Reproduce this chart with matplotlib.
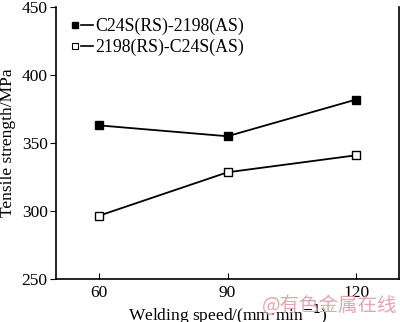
import matplotlib.pyplot as plt
from matplotlib.lines import Line2D
from matplotlib.legend_handler import HandlerTuple

# welding speed (mm/min)
speed = [60, 90, 120]
# tensile strength (MPa)
c24s_2198 = [363, 355, 382]
s2198_c24s = [296.5, 328.5, 341]
names = ["C24S(RS)-2198(AS)", "2198(RS)-C24S(AS)"]

plt.rcParams['font.family'] = ['Liberation Serif', 'DejaVu Serif']
plt.rcParams['font.size'] = 12

fig = plt.figure(figsize=(4, 3.22), dpi=100)
ax = fig.add_axes([0.14, 0.1335, 0.8575, 0.8445])

ax.plot(speed, c24s_2198, '-s', color='black', lw=1.3, ms=6,
        mfc='black', mec='black')
ax.plot(speed, s2198_c24s, '-s', color='black', lw=1.3, ms=6,
        mfc='white', mec='black', mew=1)

ax.set_xlim(50, 130)
ax.set_ylim(250, 450)
ax.set_xticks(speed)
ax.set_yticks([250, 300, 350, 400, 450])
ax.tick_params(axis='x', direction='in', length=4, pad=4, labelsize=12.5)
ax.tick_params(axis='y', direction='out', length=4, pad=2, labelsize=12.5)
ax.spines['top'].set_visible(False)
for s in ['left', 'right', 'bottom']:
    ax.spines[s].set_linewidth(1.2)

ax.set_xlabel("Welding speed/(mm\u00b7min$^{-1}$)", labelpad=2, fontsize=12.5)
ax.set_ylabel("Tensile strength/MPa", labelpad=4, fontsize=12.5)

# legend: marker first, then a short line
h1 = (Line2D([], [], marker='s', ls='', color='black', ms=5),
      Line2D([], [], color='black', lw=1.2))
h2 = (Line2D([], [], marker='s', ls='', color='black', mfc='white', ms=5, mew=0.8),
      Line2D([], [], color='black', lw=1.2))
ax.legend([h1, h2], names, handler_map={tuple: HandlerTuple(ndivide=None, pad=0)},
          loc='upper left', bbox_to_anchor=(-0.01, 1.02), frameon=False,
          handlelength=1.4, handletextpad=0.1, labelspacing=0.22, fontsize=12.8)

# watermark
fig.text(0.655, 0.052, "@有色金属在线", color='#e89aa4', fontsize=14,
         family=['Noto Sans CJK SC', 'DejaVu Sans'], va='center', alpha=0.9)

fig.savefig('out.png', dpi=100)
